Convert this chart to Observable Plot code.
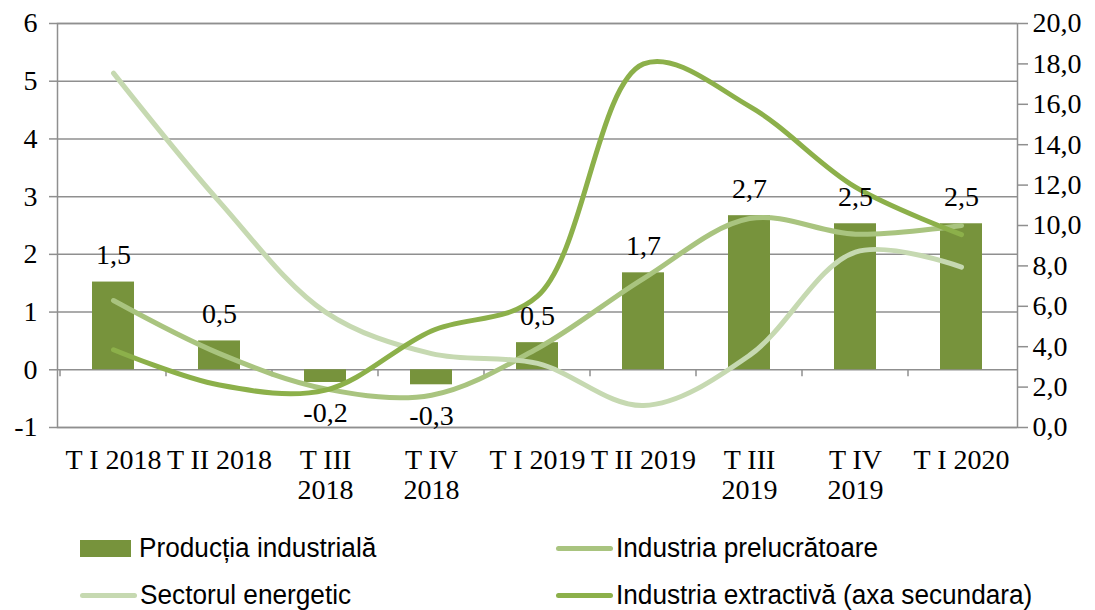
<!DOCTYPE html>
<html>
<head>
<meta charset="utf-8">
<script src="https://cdn.jsdelivr.net/npm/d3@7"></script>
<script src="https://cdn.jsdelivr.net/npm/@observablehq/plot@0.6"></script>
<style>
  html, body { margin: 0; padding: 0; background: #fff; }
  #wrap { position: relative; width: 1095px; height: 610px; overflow: hidden; }
  .leg { position: absolute; display: flex; align-items: center; font-family: "Liberation Sans", sans-serif; font-size: 27px; color: #000; white-space: nowrap; }
  .leg .txt { display: inline-block; transform: scaleX(0.97); transform-origin: left center; }
  .sw-bar { width: 51px; height: 17px; margin-right: 8px; }
  .sw-line { width: 57px; height: 5px; border-radius: 3px; margin-right: 3px; }
</style>
</head>
<body>
<div id="wrap"><div id="chart"></div></div>
<script>
// ---- data ----
const categories = ["T I 2018","T II 2018","T III 2018","T IV 2018","T I 2019","T II 2019","T III 2019","T IV 2019","T I 2020"];
const tickLabels = ["T I 2018","T II 2018","T III\n2018","T IV\n2018","T I 2019","T II 2019","T III\n2019","T IV\n2019","T I 2020"];
const productiaIndustriala = [1.52, 0.50, -0.22, -0.26, 0.47, 1.68, 2.67, 2.53, 2.53];
const productiaLabels = ["1,5","0,5","-0,2","-0,3","0,5","1,7","2,7","2,5","2,5"];
const industriaPrelucratoare = [1.20, 0.28, -0.33, -0.44, 0.37, 1.58, 2.62, 2.35, 2.50];
const sectorulEnergetic = [5.14, 2.91, 1.00, 0.28, 0.11, -0.62, 0.25, 2.04, 1.78];
const industriaExtractiva = [3.85, 2.10, 1.85, 4.78, 6.50, 18.0, 15.9, 11.9, 9.55]; // secondary axis
const leftTicks = [-1, 0, 1, 2, 3, 4, 5, 6];
const rightTicks = [0, 2, 4, 6, 8, 10, 12, 14, 16, 18, 20];

const seriesNames = ["Producția industrială", "Industria prelucrătoare", "Sectorul energetic", "Industria extractivă (axa secundara)"];
const colors = ["#77933c", "#a9c47f", "#c6d9b1", "#8cb04a"];

// secondary axis [0,20] mapped onto primary [-1,6]
const leftDomain = [-1, 6], rightDomain = [0, 20];
const toLeft = v => leftDomain[0] + (v - rightDomain[0]) * (leftDomain[1] - leftDomain[0]) / (rightDomain[1] - rightDomain[0]);
const toRight = v => rightDomain[0] + (v - leftDomain[0]) * (rightDomain[1] - rightDomain[0]) / (leftDomain[1] - leftDomain[0]);

const bars = categories.map((c, i) => ({cat: c, v: productiaIndustriala[i], label: productiaLabels[i]}));
const lines = [
  ...categories.map((c, i) => ({cat: c, s: seriesNames[1], v: industriaPrelucratoare[i]})),
  ...categories.map((c, i) => ({cat: c, s: seriesNames[2], v: sectorulEnergetic[i]})),
  ...categories.map((c, i) => ({cat: c, s: seriesNames[3], v: toLeft(industriaExtractiva[i])}))
];

const gray = "#8f8f8f";
const serif = "'Liberation Serif', 'DejaVu Serif', serif";

// small ticks on the zero line at category boundaries
function boundaryTicks(index, scales) {
  const x = scales.x, y = scales.y;
  const step = x(categories[1]) - x(categories[0]);
  const bw = x.bandwidth ? x.bandwidth() : 0;
  const g = d3.create("svg:g");
  const y0 = y(0);
  categories.forEach((c) => {
    const b = x(c) + bw / 2 - step / 2;
    g.append("line").attr("x1", b).attr("x2", b).attr("y1", y0).attr("y2", y0 + 7)
      .attr("stroke", gray).attr("stroke-width", 1.5);
  });
  return g.node();
}

const chart = Plot.plot({
  width: 1095,
  height: 510,
  marginLeft: 57,
  marginRight: 78,
  marginTop: 23,
  marginBottom: 83,
  style: {fontFamily: serif, fontSize: "28px", color: "#000", background: "#fff"},
  x: {domain: categories, paddingInner: 0.6, paddingOuter: 0.3, axis: null},
  y: {domain: leftDomain, axis: null},
  color: {domain: seriesNames.slice(1), range: colors.slice(1)},
  marks: [
    Plot.gridY(leftTicks, {stroke: gray, strokeOpacity: 1, strokeWidth: 1.5}),
    Plot.frame({stroke: gray, strokeWidth: 1.5}),
    Plot.axisY(leftTicks, {anchor: "left", label: null, tickSize: 8, tickPadding: 12, stroke: gray, strokeWidth: 1.5, tickFormat: d => String(d), fontSize: 28}),
    Plot.axisY(rightTicks.map(toLeft), {anchor: "right", label: null, tickSize: 10, tickPadding: 5, stroke: gray, strokeWidth: 1.5, tickFormat: d => toRight(d).toFixed(1).replace(".", ","), fontSize: 28}),
    Plot.axisX({label: null, tickSize: 0, tickPadding: 20, lineHeight: 1.07, tickFormat: d => tickLabels[categories.indexOf(d)], fontSize: 28}),
    boundaryTicks,
    Plot.barY(bars, {x: "cat", y: "v", fill: colors[0]}),
    Plot.line(lines, {x: "cat", y: "v", z: "s", stroke: "s", strokeWidth: 5, curve: "catmull-rom", strokeLinecap: "round"}),
    Plot.text(bars.filter(d => d.v >= 0), {x: "cat", y: "v", text: "label", dy: -27, fontSize: 28}),
    Plot.text(bars.filter(d => d.v < 0), {x: "cat", y: "v", text: "label", dy: 31, fontSize: 28})
  ]
});
document.getElementById("chart").appendChild(chart);

// legend
const wrap = document.getElementById("wrap");
const legendItems = [
  {name: seriesNames[0], color: colors[0], type: "bar", left: 80, top: 548},
  {name: seriesNames[1], color: colors[1], type: "line", left: 556, top: 548},
  {name: seriesNames[2], color: colors[2], type: "line", left: 80, top: 595},
  {name: seriesNames[3], color: colors[3], type: "line", left: 556, top: 595}
];
legendItems.forEach(it => {
  const d = document.createElement("div");
  d.className = "leg";
  d.style.left = it.left + "px";
  d.style.top = (it.top - 17) + "px";
  d.style.height = "34px";
  const sw = document.createElement("span");
  sw.className = it.type === "bar" ? "sw-bar" : "sw-line";
  sw.style.background = it.color;
  const t = document.createElement("span");
  t.className = "txt";
  t.textContent = it.name;
  d.appendChild(sw); d.appendChild(t);
  wrap.appendChild(d);
});
</script>
</body>
</html>
